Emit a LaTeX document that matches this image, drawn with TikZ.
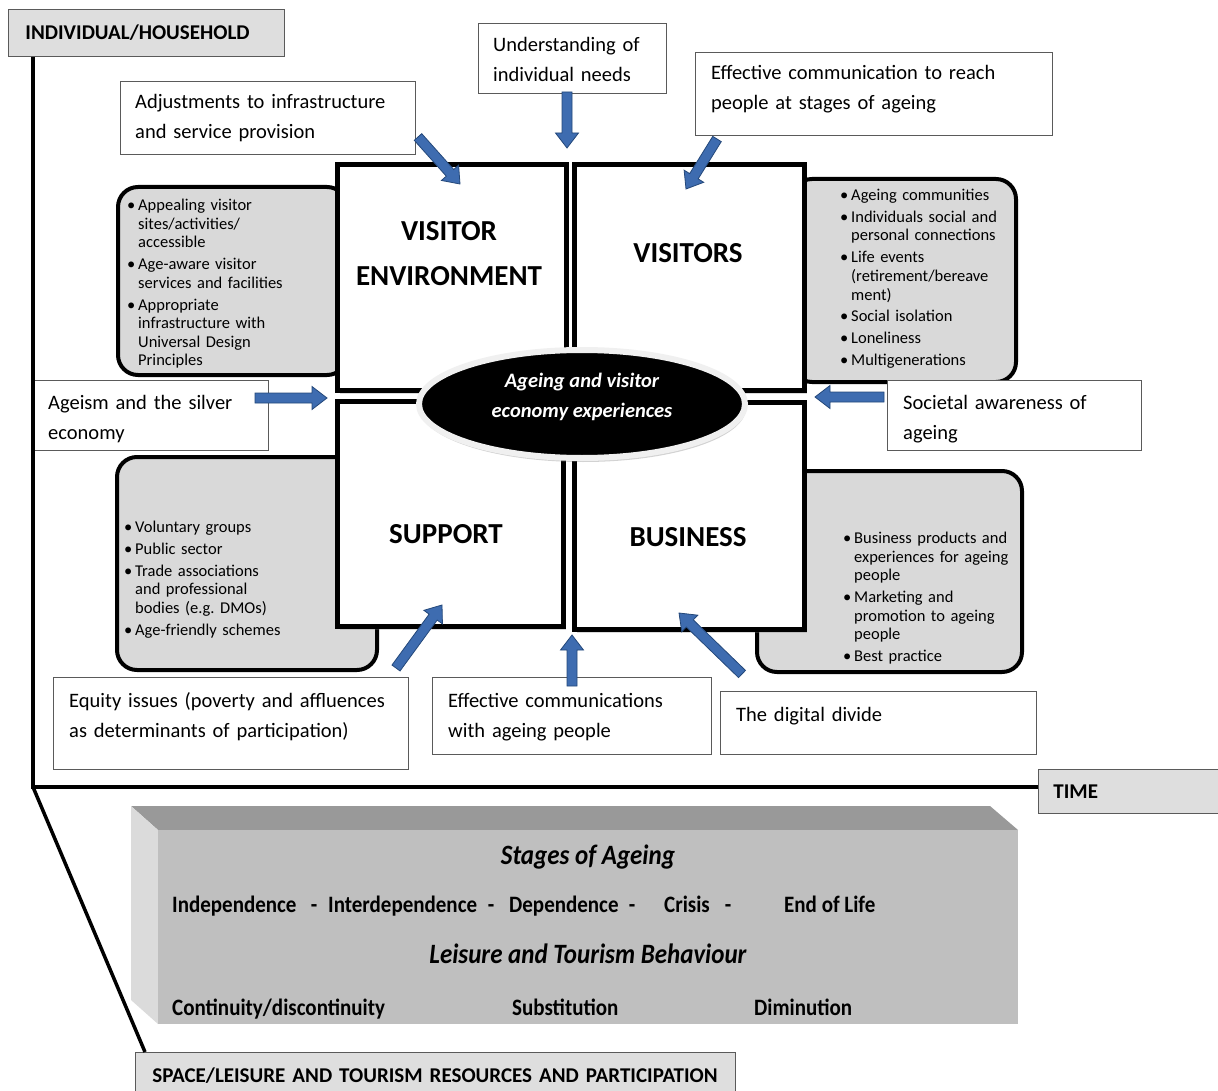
\documentclass[tikz,border=0pt]{standalone}
\usepackage{fontspec}
\setmainfont{Carlito}
\usepackage{graphicx}
\usetikzlibrary{calc,shapes.geometric,shadows}
\frenchspacing

\definecolor{arrowblue}{RGB}{62,108,176}
\definecolor{arrowedge}{RGB}{36,72,122}
\definecolor{panelgray}{RGB}{217,217,217}
\definecolor{taggray}{RGB}{222,222,222}
\definecolor{boxedge}{RGB}{90,90,90}

% bullet marker and hanging indent for continuation lines
\newcommand\bl{\makebox[11pt][l]{\textbullet}}
\newcommand\cn{\hspace*{11pt}}
% vertically stretched text for the stage panel
\newcommand\tall[1]{\scalebox{1}[1.12]{#1}}

% block arrow: #1 name, #2 tail coordinate, #3 tip coordinate
\newcommand\blockarr[3]{%
  \coordinate (#1-hb) at ($(#3)!15pt!(#2)$);
  \draw[blockarrow]
    ($(#2)!5pt!90:(#3)$) -- ($(#1-hb)!5pt!-90:(#2)$) -- ($(#1-hb)!11.5pt!-90:(#2)$)
    -- (#3) -- ($(#1-hb)!11.5pt!90:(#2)$) -- ($(#1-hb)!5pt!90:(#2)$)
    -- ($(#2)!5pt!-90:(#3)$) -- cycle;}

\begin{document}
\begin{tikzpicture}[x=1pt,y=-1pt,
  labelbox/.style={draw=boxedge, line width=0.9pt, fill=white, inner sep=0pt, anchor=north west},
  labeltext/.style={font=\fontsize{20.5}{30}\selectfont, anchor=base west, align=left, inner sep=0pt, text width=#1},
  listbox/.style={draw=black, line width=4pt, fill=panelgray, rounded corners=20pt, inner sep=0pt, anchor=north west},
  listtext/.style={font=\fontsize{16.5}{18.6}\selectfont, anchor=base west, align=left, inner sep=0pt, text width=#1},
  quad/.style={draw=black, line width=5pt, fill=white, inner sep=0pt, anchor=north west,
    drop shadow={shadow xshift=2pt, shadow yshift=-3pt, opacity=0.3}},
  quadtitle/.style={font=\bfseries\fontsize{29}{45}\selectfont, align=center, inner sep=0pt},
  axisbox/.style={draw=boxedge, line width=0.9pt, fill=taggray, anchor=north west, align=left,
    font=\bfseries\fontsize{21}{24}\selectfont},
  axisline/.style={draw=black, line width=4pt, line join=miter},
  blockarrow/.style={fill=arrowblue, draw=arrowedge, line width=0.8pt, line join=miter},
  stagetext/.style={font=\bfseries\fontsize{21}{24}\selectfont, anchor=base west, inner sep=0pt},
  stagehead/.style={font=\bfseries\itshape\fontsize{25}{28}\selectfont, anchor=base, inner sep=0pt},
]
\useasboundingbox (0,0) rectangle (1218,1091);

% ---------- grey panels with bullet lists ----------
\node[listbox, minimum width=229pt, minimum height=188pt] (envlist) at (116,185) {};
\node[listbox, minimum width=224pt, minimum height=203pt] (vislist) at (790,177) {};
\node[listbox, minimum width=260pt, minimum height=213pt] (suplist) at (115,455) {};
\node[listbox, minimum width=265pt, minimum height=201pt] (buslist) at (755,469) {};

\node[listtext=200pt] (envitems) at (127,210.5)
  {\bl Appealing visitor\\ \cn sites/activities/\\ \cn accessible\\[3.3pt]
   \bl Age-aware visitor\\ \cn services and facilities\\[3.3pt]
   \bl Appropriate\\ \cn infrastructure with\\ \cn Universal Design\\ \cn Principles};
\node[listtext=165pt] (visitems) at (840,200.5)
  {\bl Ageing communities\\[3.3pt]
   \bl Individuals social and\\ \cn personal connections\\[3.3pt]
   \bl Life events\\ \cn (retirement/bereave\\ \cn ment)\\[3.3pt]
   \bl Social isolation\\[3.3pt]
   \bl Loneliness\\[3.3pt]
   \bl Multigenerations};
\node[listtext=220pt] (supitems) at (124,532.5)
  {\bl Voluntary groups\\[3.3pt]
   \bl Public sector\\[3.3pt]
   \bl Trade associations\\ \cn and professional\\ \cn bodies (e.g. DMOs)\\[3.3pt]
   \bl Age-friendly schemes};
\node[listtext=170pt] (busitems) at (843,543.5)
  {\bl Business products and\\ \cn experiences for ageing\\ \cn people\\[3.3pt]
   \bl Marketing and\\ \cn promotion to ageing\\ \cn people\\[3.3pt]
   \bl Best practice};

% ---------- four quadrants ----------
\node[quad, minimum width=229pt, minimum height=226pt] (envquad) at (335,162) {};
\node[quad, minimum width=230pt, minimum height=226pt] (visquad) at (572,162) {};
\node[quad, minimum width=226pt, minimum height=225pt] (supquad) at (335,399) {};
\node[quad, minimum width=230pt, minimum height=227pt] (busquad) at (572,400) {};

\node[quadtitle] (envtitle) at (449,253.5) {VISITOR\\ENVIRONMENT};
\node[quadtitle] (vistitle) at (688,253) {VISITORS};
\node[quadtitle] (suptitle) at (446,534) {SUPPORT};
\node[quadtitle] (bustitle) at (688,537) {BUSINESS};

% ---------- central ellipse ----------
\node[ellipse, minimum width=326pt, minimum height=108pt, fill=black, draw=gray!12, line width=6pt,
  drop shadow={shadow xshift=1pt, shadow yshift=-4pt, opacity=0.35}] (core) at (582,404) {};
\node[font=\bfseries\itshape\fontsize{20.5}{30}\selectfont, text=white, align=center, inner sep=0pt]
  (coretext) at (582,397) {Ageing and visitor\\economy experiences};

% ---------- influence labels ----------
\node[labelbox, minimum width=295pt, minimum height=73pt] (adjbox) at (120,81) {};
\node[labeltext=280pt] (adjtext) at (135,109) {Adjustments to infrastructure\\and service provision};

\node[labelbox, minimum width=188pt, minimum height=70pt] (undbox) at (478,23) {};
\node[labeltext=175pt] (undtext) at (493,51.5) {Understanding of\\individual needs};

\node[labelbox, minimum width=357pt, minimum height=83pt] (reachbox) at (695,52) {};
\node[labeltext=340pt] (reachtext) at (711,80) {Effective communication to reach\\people at stages of ageing};

\node[labelbox, minimum width=235pt, minimum height=70pt] (agebox) at (33,380) {};
\node[labeltext=220pt] (agetext) at (48,409) {Ageism and the silver\\economy};

\node[labelbox, minimum width=254pt, minimum height=70pt] (socbox) at (887,380) {};
\node[labeltext=240pt] (soctext) at (903,409) {Societal awareness of\\ageing};

\node[labelbox, minimum width=355pt, minimum height=92pt] (equbox) at (53,677) {};
\node[labeltext=340pt] (equtext) at (69,707) {Equity issues (poverty and affluences\\as determinants of participation)};

\node[labelbox, minimum width=279pt, minimum height=77pt] (combox) at (432,677) {};
\node[labeltext=265pt] (comtext) at (448,707) {Effective communications\\with ageing people};

\node[labelbox, minimum width=316pt, minimum height=63pt] (digbox) at (720,691) {};
\node[labeltext=300pt] (digtext) at (736,721) {The digital divide};

% ---------- block arrows ----------
\coordinate (a1t) at (418,137); \coordinate (a1h) at (460,184);
\coordinate (a2t) at (567,92);  \coordinate (a2h) at (567,148);
\coordinate (a3t) at (717,139); \coordinate (a3h) at (686,189);
\coordinate (a4t) at (255,398); \coordinate (a4h) at (327,398);
\coordinate (a5t) at (884,397); \coordinate (a5h) at (815,397);
\coordinate (a6t) at (396,668); \coordinate (a6h) at (442,605);
\coordinate (a7t) at (572,686); \coordinate (a7h) at (572,635);
\coordinate (a8t) at (742,674); \coordinate (a8h) at (679,613);
\blockarr{a1}{a1t}{a1h}
\blockarr{a2}{a2t}{a2h}
\blockarr{a3}{a3t}{a3h}
\blockarr{a4}{a4t}{a4h}
\blockarr{a5}{a5t}{a5h}
\blockarr{a6}{a6t}{a6h}
\blockarr{a7}{a7t}{a7h}
\blockarr{a8}{a8t}{a8h}

% ---------- axes ----------
\node[axisbox, text width=242pt, inner xsep=17pt, minimum height=47pt] (indiv) at (8,9) {\mbox{INDIVIDUAL/HOUSEHOLD}};
\node[axisbox, text width=152pt, inner xsep=15pt, minimum height=44pt] (time) at (1038,769) {TIME};
\node[axisbox, text width=566pt, inner xsep=17pt, minimum height=46pt] (space) at (135,1052)
  {\mbox{SPACE/LEISURE AND TOURISM RESOURCES AND PARTICIPATION}};

\coordinate (origin) at (33,787);
\draw[axisline] (indiv.south -| origin) -- (origin) -- (time.west |- origin);
\draw[axisline, line width=3.5pt] (origin) -- ($(space.north west)+(10,0)$);

% ---------- stages panel ----------
\fill[gray!80] (131,806) -- (990,806) -- (1018,830) -- (158,830) -- cycle;
\fill[gray!28] (131,806) -- (158,830) -- (158,1024) -- (131,1000) -- cycle;
\fill[gray!50] (158,830) rectangle (1018,1024);

\node[stagehead] (stagesh) at (588,864) {\tall{Stages of Ageing}};
\node[stagetext] (st1) at (172,912.5) {\tall{Independence}};
\node[stagetext, anchor=base] (sd1) at (314,912.5) {\tall{-}};
\node[stagetext] (st2) at (328,912.5) {\tall{Interdependence}};
\node[stagetext, anchor=base] (sd2) at (491,912.5) {\tall{-}};
\node[stagetext] (st3) at (509,912.5) {\tall{Dependence}};
\node[stagetext, anchor=base] (sd3) at (632,912.5) {\tall{-}};
\node[stagetext] (st4) at (664,912.5) {\tall{Crisis}};
\node[stagetext, anchor=base] (sd4) at (728,912.5) {\tall{-}};
\node[stagetext] (st5) at (784,912.5) {\tall{End of Life}};

\node[stagehead] (leish) at (588,963) {\tall{Leisure and Tourism Behaviour}};
\begin{scope}
  \clip (158,830) rectangle (1018,1022);
  \node[stagetext] (lb1) at (172,1015.5) {\tall{Continuity/discontinuity}};
  \node[stagetext] (lb2) at (512,1015.5) {\tall{Substitution}};
  \node[stagetext] (lb3) at (754,1015.5) {\tall{Diminution}};
\end{scope}
\end{tikzpicture}
\end{document}
